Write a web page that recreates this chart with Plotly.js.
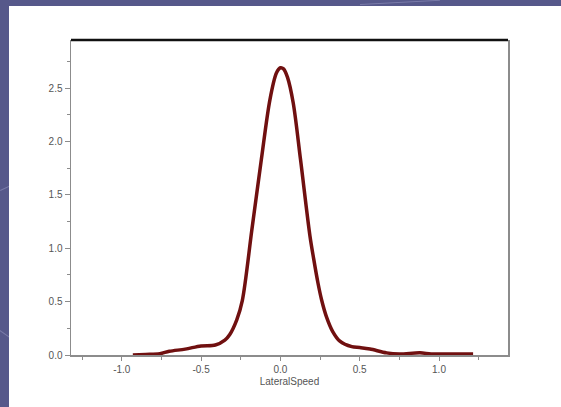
<!DOCTYPE html>
<html>
<head>
<meta charset="utf-8">
<script src="https://cdn.plot.ly/plotly-3.0.1.min.js"></script>
<style>
  html, body { margin: 0; padding: 0; }
  body {
    width: 561px; height: 407px; overflow: hidden; position: relative;
    background: #56588a;
  }
  .streak {
    position: absolute; height: 1px; background: rgba(190,190,225,0.35);
    transform-origin: 0 0;
  }
  #chart { position: absolute; left: 9px; top: 6px; width: 552px; height: 401px; }
</style>
</head>
<body>
<div class="streak" style="left:0;top:190px;width:60px;transform:rotate(-25deg)"></div>
<div class="streak" style="left:0;top:330px;width:40px;transform:rotate(35deg)"></div>
<div class="streak" style="left:360px;top:4px;width:80px;transform:rotate(-3deg)"></div>
<div id="chart"></div>
<script>
// Kernel density estimate of lateral speed
const speed = [-0.93, -0.85, -0.76, -0.70, -0.60, -0.50, -0.41, -0.35, -0.32, -0.275,
  -0.24, -0.18, -0.12, -0.066, -0.025, 0.0, 0.02, 0.045, 0.081,
  0.127, 0.186, 0.21, 0.237, 0.26, 0.29, 0.33, 0.375, 0.45, 0.5,
  0.565, 0.67, 0.75, 0.88, 0.95, 1.05, 1.215];
const density = [0.0, 0.005, 0.012, 0.035, 0.055, 0.085, 0.094, 0.14, 0.19, 0.33,
  0.51, 1.17, 1.83, 2.39, 2.64, 2.69, 2.68, 2.6, 2.36,
  1.83, 1.12, 0.9, 0.674, 0.515, 0.36, 0.22, 0.13, 0.078, 0.07,
  0.056, 0.02, 0.01, 0.02, 0.01, 0.01, 0.01];

const xTicks = [-1.0, -0.5, 0.0, 0.5, 1.0];
const xTickText = ['-1.0', '-0.5', '0.0', '0.5', '1.0'];
const yTicks = [0.0, 0.5, 1.0, 1.5, 2.0, 2.5];
const yTickText = ['0.0', '0.5', '1.0', '1.5', '2.0', '2.5'];

const axisGray = '#8c8c8c';
const labelFont = { family: 'Liberation Sans, Arial, sans-serif', size: 10, color: '#555' };

Plotly.newPlot('chart', [{
  x: speed, y: density, type: 'scatter', mode: 'lines',
  line: { color: '#701010', width: 3.5, shape: 'spline', smoothing: 0.9 },
  hoverinfo: 'skip'
}], {
  width: 552, height: 401,
  margin: { l: 62, r: 53, t: 34, b: 52 },
  paper_bgcolor: '#ffffff', plot_bgcolor: '#ffffff',
  showlegend: false,
  xaxis: {
    range: [-1.32, 1.435], tickvals: xTicks, ticktext: xTickText,
    showgrid: false, zeroline: false,
    showline: true, linecolor: axisGray, linewidth: 1.5,
    ticks: 'outside', ticklen: 4, tickcolor: axisGray, tickwidth: 1,
    minor: { dtick: 0.25, tick0: 0, ticks: 'outside', ticklen: 3, tickcolor: axisGray },
    tickfont: labelFont,
    title: { text: 'LateralSpeed', font: labelFont, standoff: 4 }
  },
  yaxis: {
    range: [0, 2.95], tickvals: yTicks, ticktext: yTickText,
    showgrid: false, zeroline: false,
    showline: true, linecolor: axisGray, linewidth: 1.5, mirror: true,
    ticks: 'outside', ticklen: 5, tickcolor: axisGray, tickwidth: 1,
    minor: { dtick: 0.25, tick0: 0, ticks: 'outside', ticklen: 3, tickcolor: axisGray },
    tickfont: labelFont
  },
  shapes: [{
    type: 'line', xref: 'paper', yref: 'paper', x0: 0, x1: 1, y0: 1, y1: 1,
    line: { color: '#111', width: 2.5 }
  }]
}, { displayModeBar: false, staticPlot: true });
</script>
</body>
</html>
